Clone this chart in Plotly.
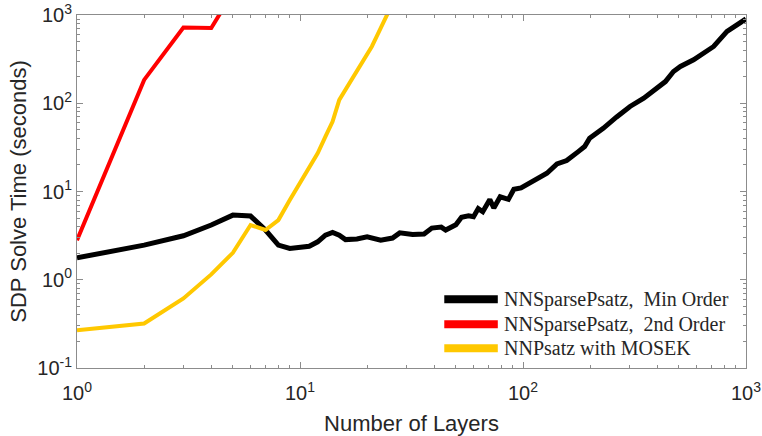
import plotly.graph_objects as go

# NNSparsePsatz, min order
layers_min = [1, 2, 3, 4, 5, 6, 7, 8, 9, 10, 11, 12, 13, 14, 15, 16, 18, 20, 23, 26,
              28, 32, 36, 39, 43, 45, 50, 53, 57, 60, 63, 66, 71, 74, 79, 86, 91, 98,
              116, 128, 142, 157, 177, 189, 199, 229, 263, 302, 348, 399, 435, 473,
              508, 582, 635, 716, 822, 896, 1000]
time_min = [1.77, 2.47, 3.15, 4.17, 5.4, 5.27, 3.66, 2.47, 2.26, 2.3, 2.4, 2.69, 3.2,
            3.44, 3.2, 2.85, 2.9, 3.07, 2.81, 2.97, 3.4, 3.25, 3.3, 3.85, 3.95, 3.66,
            4.2, 5.1, 5.3, 5.18, 6.4, 5.9, 8.1, 6.5, 8.7, 8.15, 10.6, 11.0, 14.1, 16.1,
            20.5, 22.4, 28.3, 32.3, 40.2, 52, 70, 92, 114, 148, 176, 229, 261, 311,
            364, 440, 652, 743, 902]

# NNSparsePsatz, 2nd order
layers_2nd = [1, 2, 3, 4, 5]
time_2nd = [2.81, 184, 723, 711, 1800]

# NNPsatz with MOSEK
layers_mosek = [1, 2, 3, 4, 5, 6, 7, 8, 9, 10, 11, 12, 13, 14, 15, 16, 17, 18, 19,
                20, 21, 22, 23, 24, 25]
time_mosek = [0.268, 0.319, 0.614, 1.15, 2.02, 4.17, 3.66, 4.74, 8.0, 12.4, 18.3,
              27.1, 41.9, 62, 109, 142, 181, 228, 285, 356, 440, 560, 711, 883, 1100]

series_names = ['NNSparsePsatz,  Min Order', 'NNSparsePsatz,  2nd Order', 'NNPsatz with MOSEK']
series_colors = ['black', '#ff0000', '#ffc800']
series_widths = [5, 4, 4]

x_ticks = [1, 10, 100, 1000]
x_ticktext = ['10<sup>0</sup>', '10<sup>1</sup>', '10<sup>2</sup>', '10<sup>3</sup>']
y_ticks = [0.1, 1, 10, 100, 1000]
y_ticktext = ['10<sup>-1</sup>', '10<sup>0</sup>', '10<sup>1</sup>', '10<sup>2</sup>', '10<sup>3</sup>']

fig = go.Figure()
for xs, ys, name, col, w in zip([layers_min, layers_2nd, layers_mosek],
                                [time_min, time_2nd, time_mosek],
                                series_names, series_colors, series_widths):
    fig.add_trace(go.Scatter(x=xs, y=ys, mode='lines', line=dict(color=col, width=w),
                             name=name, showlegend=False))

# hand-made legend (wider line samples than plotly's)
legend_y = [0.195, 0.124, 0.056]
for name, col, ly in zip(series_names, series_colors, legend_y):
    fig.add_shape(type='line', xref='paper', yref='paper', x0=0.549, x1=0.629, y0=ly, y1=ly,
                  line=dict(color=col, width=8))
    fig.add_annotation(xref='paper', yref='paper', x=0.636, y=ly, text=name, showarrow=False,
                       xanchor='left', yanchor='middle',
                       font=dict(family='Liberation Serif', size=20, color='#262626'))


def minor_vals(lo, hi):
    return [m * 10 ** k for k in range(lo, hi) for m in range(2, 10)]


axis_style = dict(type='log', showgrid=False, zeroline=False, automargin=False,
                  showline=True, linecolor='#8c8c8c', linewidth=1, mirror='ticks',
                  ticks='inside', ticklen=6, tickcolor='#8c8c8c',
                  tickfont=dict(family='Liberation Sans', size=20, color='#262626'))

fig.update_xaxes(axis_style, range=[0, 3], tickmode='array', tickvals=x_ticks, ticktext=x_ticktext,
                 ticklabelstandoff=7,
                 minor=dict(ticks='inside', ticklen=3, tickcolor='#8c8c8c', tickmode='array',
                            tickvals=minor_vals(0, 3)),
                 title=dict(text='Number of Layers', standoff=12,
                            font=dict(family='Liberation Sans', size=22, color='#262626')))
fig.update_yaxes(axis_style, range=[-1, 3], tickmode='array', tickvals=y_ticks, ticktext=y_ticktext,
                 minor=dict(ticks='inside', ticklen=3, tickcolor='#8c8c8c', tickmode='array',
                            tickvals=minor_vals(-1, 3)),
                 title=dict(text='SDP Solve Time (seconds)', standoff=4,
                            font=dict(family='Liberation Sans', size=22, color='#262626')))

fig.update_layout(
    width=762, height=436,
    margin=dict(l=77, r=16, t=15, b=68),
    plot_bgcolor='white', paper_bgcolor='white',
    showlegend=False,
)

fig.write_html('out.html', config={'displayModeBar': False},
               post_script="document.body.style.margin='0';")
